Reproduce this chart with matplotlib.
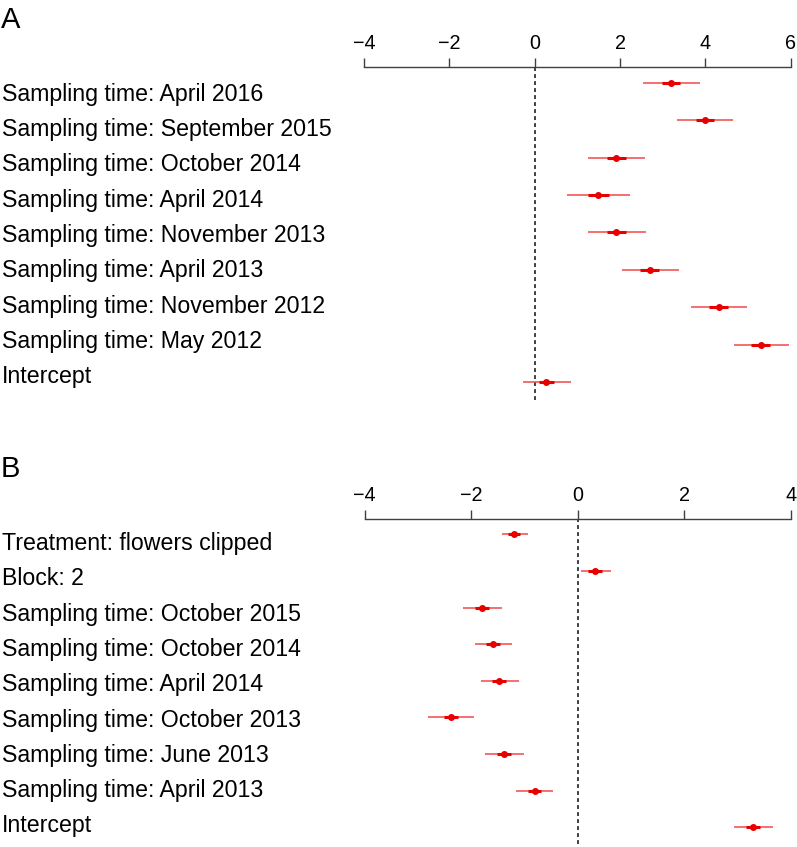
import matplotlib
matplotlib.use("Agg")
import matplotlib.pyplot as plt

plt.rcParams['font.family'] = ['Liberation Sans', 'DejaVu Sans']

# --- panel A: coefficients ---
a_labels = ["Sampling time: April 2016", "Sampling time: September 2015",
            "Sampling time: October 2014", "Sampling time: April 2014",
            "Sampling time: November 2013", "Sampling time: April 2013",
            "Sampling time: November 2012", "Sampling time: May 2012",
            "Intercept"]
a_est = [3.19, 3.98, 1.91, 1.49, 1.91, 2.70, 4.31, 5.30, 0.27]
a_lo = [2.55, 3.33, 1.25, 0.76, 1.25, 2.04, 3.67, 4.66, -0.27]
a_hi = [3.875, 4.64, 2.59, 2.23, 2.61, 3.375, 4.98, 5.96, 0.84]
a_in_lo = [2.98, 3.78, 1.69, 1.24, 1.69, 2.47, 4.09, 5.07, 0.09]
a_in_hi = [3.41, 4.20, 2.13, 1.75, 2.14, 2.92, 4.53, 5.52, 0.45]
a_ticks = [-4, -2, 0, 2, 4, 6]

# --- panel B: coefficients ---
b_labels = ["Treatment: flowers clipped", "Block: 2",
            "Sampling time: October 2015", "Sampling time: October 2014",
            "Sampling time: April 2014", "Sampling time: October 2013",
            "Sampling time: June 2013", "Sampling time: April 2013",
            "Intercept"]
b_est = [-1.19, 0.33, -1.80, -1.59, -1.48, -2.38, -1.39, -0.81, 3.29]
b_lo = [-1.42, 0.06, -2.15, -1.93, -1.82, -2.82, -1.75, -1.15, 2.93]
b_hi = [-0.93, 0.63, -1.42, -1.23, -1.11, -1.95, -1.01, -0.46, 3.67]
b_in_lo = [-1.30, 0.20, -1.93, -1.72, -1.61, -2.52, -1.52, -0.94, 3.16]
b_in_hi = [-1.08, 0.46, -1.67, -1.46, -1.35, -2.24, -1.26, -0.68, 3.42]
b_ticks = [-4, -2, 0, 2, 4]

W, H = 797, 847
fig = plt.figure(figsize=(W / 100, H / 100), dpi=100)

AXCOL = '#404040'


def coef_panel(rect, xlim, ticks, est, lo, hi, in_lo, in_hi, ylim):
    ax = fig.add_axes(rect)
    rows = list(range(len(est)))
    ax.axvline(0, color=AXCOL, lw=1.4, dashes=(2.0, 1.6), zorder=1)
    ax.hlines(rows, lo, hi, color='#f04848', lw=1.1, zorder=2)
    ax.hlines(rows, in_lo, in_hi, color='#e80000', lw=2.2, zorder=3)
    ax.plot(est, rows, 'o', color='#e80000', ms=4.0, zorder=4)
    ax.set_xlim(*xlim)
    ax.set_ylim(*ylim)
    for s in ('left', 'right', 'bottom'):
        ax.spines[s].set_visible(False)
    ax.spines['top'].set_color(AXCOL)
    ax.spines['top'].set_linewidth(1.0)
    ax.xaxis.tick_top()
    ax.set_xticks(ticks)
    ax.tick_params(axis='x', direction='out', length=6.8, width=1.0,
                   color=AXCOL, labelsize=14.2, pad=3.2)
    ax.set_yticks([])
    ax.patch.set_visible(False)
    return ax


axA = coef_panel([364 / W, 1 - 400 / H, (790.7 - 364) / W, (400 - 66.7) / H],
                 (-4, 6), a_ticks, a_est, a_lo, a_hi, a_in_lo, a_in_hi,
                 (8.48, -0.43))
axB = coef_panel([364.7 / W, 1 - 844 / H, (790.7 - 364.7) / W, (844 - 519) / H],
                 (-4, 4), b_ticks, b_est, b_lo, b_hi, b_in_lo, b_in_hi,
                 (8.46, -0.42))

# row labels, left aligned at the figure edge
for i, lab in enumerate(a_labels):
    fig.text(2 / W, 1 - (101 + i * 35.25) / H, lab, fontsize=16.7,
             ha='left', va='baseline')
for i, lab in enumerate(b_labels):
    fig.text(2 / W, 1 - (550 + i * 35.3) / H, lab, fontsize=16.7,
             ha='left', va='baseline')

fig.text(1 / W, 1 - 28 / H, "A", fontsize=21, ha='left', va='baseline')
fig.text(1 / W, 1 - 477 / H, "B", fontsize=21, ha='left', va='baseline')

fig.savefig("out.png", dpi=100)
